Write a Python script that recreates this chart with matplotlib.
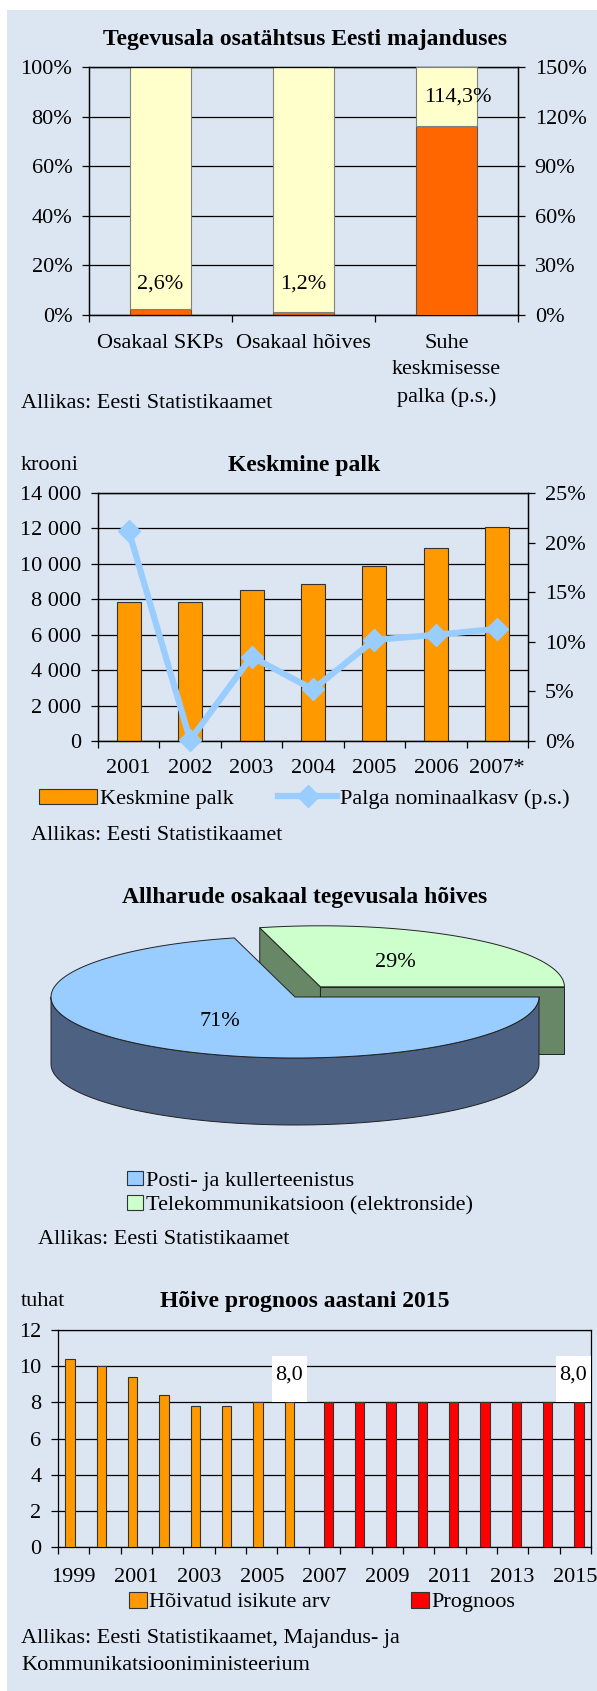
import matplotlib
matplotlib.use('Agg')
import matplotlib.pyplot as plt
import numpy as np
from matplotlib.patches import Rectangle, Polygon, Patch
from matplotlib.lines import Line2D

# ---------------- data ----------------
c1_categories = ['Osakaal SKPs', 'Osakaal hõives', 'Suhe\nkeskmisesse\npalka (p.s.)']
c1_shares = [2.6, 1.2]          # % (left axis)
c1_ratio = 114.3                # % (right axis)
c1_labels = ['2,6%', '1,2%', '114,3%']

c2_years = ['2001', '2002', '2003', '2004', '2005', '2006', '2007*']
c2_wage = [7820, 7820, 8500, 8890, 9870, 10920, 12080]
c2_growth = [21.2, 0.1, 8.5, 5.2, 10.2, 10.7, 11.3]

c3_labels = ['Posti- ja kullerteenistus', 'Telekommunikatsioon (elektronside)']
c3_shares = [71, 29]
c3_texts = ['71%', '29%']

c4_years = list(range(1999, 2016))
c4_actual = [10.4, 10.0, 9.4, 8.4, 7.8, 7.8, 8.0, 8.0]
c4_forecast = [8.0, 8.0, 8.0, 8.0, 8.0, 8.0, 8.0, 8.0, 8.0]

# ---------------- style ----------------
W, H = 597, 1691
plt.rcParams['font.family'] = ['Liberation Serif', 'DejaVu Serif']
plt.rcParams['font.size'] = 16
FS = 16
TFS = 17
BG = '#DCE6F2'
ORANGE = '#FF9900'
DORANGE = '#FF6600'
YELLOW = '#FFFFCC'
RED = '#FF0000'
EDGE = '#333333'

fig = plt.figure(figsize=(W / 100, H / 100), dpi=100)
fig.patch.set_facecolor('white')
fig.patches.append(Rectangle((7 / W, 0), 1 - 7 / W, 1 - 10 / H, transform=fig.transFigure,
                             facecolor=BG, edgecolor='none', zorder=-10))


def rect(l, t, r, b):
    return [l / W, 1 - b / H, (r - l) / W, (b - t) / H]


def ftext(x, y, s, **kw):
    kw.setdefault('fontsize', FS)
    kw.setdefault('va', 'center')
    fig.text(x / W, 1 - y / H, s, **kw)


def style_axes(ax):
    ax.set_facecolor('none')
    for sp in ax.spines.values():
        sp.set_color('black')
        sp.set_linewidth(0.9)
    ax.tick_params(axis='both', which='major', length=5, width=0.9, pad=7,
                   direction='out', labelsize=FS, colors='black')


def fig_legend(handles, labels, x, y, hl, hh, tp, **kw):
    fig.legend(handles=handles, labels=labels, loc='center left',
               bbox_to_anchor=(x / W, 1 - y / H), bbox_transform=fig.transFigure,
               frameon=False, fontsize=FS, handlelength=hl, handleheight=hh,
               handletextpad=tp, borderpad=0, borderaxespad=0, **kw)


# ================= Chart 1 =================
ax1 = fig.add_axes(rect(89, 67, 518, 315))
style_axes(ax1)
x1 = np.arange(len(c1_categories))
bw1 = 0.43
ax1.set_xlim(-0.5, 2.5)
ax1.set_ylim(0, 100)
ax1.bar(x1[:2], c1_shares, bw1, color=DORANGE, edgecolor='#555555', lw=0.8, zorder=3)
ax1.bar(x1[:2], [100 - v for v in c1_shares], bw1, bottom=c1_shares, color=YELLOW,
        edgecolor='#808080', lw=0.8, zorder=3)
ax1.set_yticks(range(0, 101, 20))
ax1.set_yticklabels([f'{v}%' for v in range(0, 101, 20)])
ax1.grid(axis='y', color='black', lw=0.9)
ax1.set_axisbelow(True)
ax1.set_xticks([-0.5, 0.5, 1.5, 2.5])
ax1.set_xticklabels([])
ax1.set_xticks(x1, minor=True)
ax1.set_xticklabels(c1_categories, minor=True)
ax1.tick_params(axis='x', which='minor', length=0, pad=14, labelsize=FS)
for lab in ax1.get_xticklabels(minor=True):
    lab.set_linespacing(1.5)
for i in range(2):
    ax1.text(x1[i], 12.5, c1_labels[i], ha='center', va='center', fontsize=FS, zorder=5)

ax1r = ax1.twinx()
style_axes(ax1r)
ax1r.set_ylim(0, 150)
ax1r.bar([x1[2]], [c1_ratio], bw1, color=DORANGE, edgecolor='#555555', lw=0.8, zorder=3)
ax1r.bar([x1[2]], [150 - c1_ratio], bw1, bottom=[c1_ratio], color=YELLOW,
         edgecolor='#808080', lw=0.8, zorder=3)
ax1r.set_yticks(range(0, 151, 30))
ax1r.set_yticklabels([f'{v}%' for v in range(0, 151, 30)])
ax1r.text(x1[2] + 0.08, 132, c1_labels[2], ha='center', va='center', fontsize=FS, zorder=5)

ftext(305, 40, 'Tegevusala osatähtsus Eesti majanduses', ha='center', fontsize=TFS, fontweight='bold')
ftext(21, 404, 'Allikas: Eesti Statistikaamet', ha='left')

# ================= Chart 2 =================
ax2 = fig.add_axes(rect(98, 493, 528, 741))
style_axes(ax2)
x2 = np.arange(len(c2_years))
ax2.set_xlim(-0.5, len(c2_years) - 0.5)
ax2.set_ylim(0, 14000)
ax2.bar(x2, c2_wage, 0.39, color=ORANGE, edgecolor=EDGE, lw=0.8, zorder=3)
yt2 = list(range(0, 14001, 2000))
ax2.set_yticks(yt2)
ax2.set_yticklabels([f'{v:,}'.replace(',', ' ') for v in yt2])
ax2.grid(axis='y', color='black', lw=0.9)
ax2.set_axisbelow(True)
ax2.set_xticks(np.arange(-0.5, len(c2_years), 1.0))
ax2.set_xticklabels([])
ax2.set_xticks(x2, minor=True)
ax2.set_xticklabels(c2_years, minor=True)
ax2.tick_params(axis='x', which='minor', length=0, pad=13, labelsize=FS)

ax2r = ax2.twinx()
style_axes(ax2r)
ax2r.set_ylim(0, 25)
ax2r.set_yticks(range(0, 26, 5))
ax2r.set_yticklabels([f'{v}%' for v in range(0, 26, 5)])
ax2r.plot(x2, c2_growth, color='#99CCFF', lw=4.5, marker='D', ms=11, zorder=5, clip_on=False)

ftext(21, 465, 'krooni', ha='left')
ftext(304, 465, 'Keskmine palk', ha='center', fontsize=TFS, fontweight='bold')
fig_legend([Patch(facecolor=ORANGE, edgecolor=EDGE, lw=0.8)], ['Keskmine palk'],
           39, 799, 58 / 22.2, 14 / 22.2, 0.15)
fig_legend([Line2D([], [], color='#99CCFF', lw=4.5, marker='D', ms=11)],
           ['Palga nominaalkasv (p.s.)'], 278, 799, 59 / 22.2, 0.7, 0.15)
ftext(31, 836, 'Allikas: Eesti Statistikaamet', ha='left')

# ================= Chart 3 (3-D pie) =================
ftext(305, 897, 'Allharude osakaal tegevusala hõives', ha='center', fontsize=TFS, fontweight='bold')
ax3 = fig.add_axes(rect(0, 900, 597, 1160))
ax3.set_xlim(0, 597)
ax3.set_ylim(1160, 900)
ax3.axis('off')

cx, cy = 295.0, 997.0
rx, ry, depth = 244.0, 61.0, 67.0
explode = 0.17
fr = np.array(c3_shares, dtype=float) / sum(c3_shares)
g0, g1 = 0.0, 360.0 * fr[1]       # green (telecom) starts at 0 deg
b0, b1 = g1, 360.0                  # blue (post) fills the rest
COL_TOP = ['#99CCFF', '#CCFFCC']
COL_SIDE = ['#4D6282', '#678767']
lkw = dict(edgecolor='#222222', lw=0.7, joinstyle='round')


def pt(cx_, cy_, a, dy=0.0):
    t = np.radians(a)
    return (cx_ + rx * np.cos(t), cy_ - ry * np.sin(t) + dy)


def arc(cx_, cy_, a0, a1, dy=0.0, n=120):
    t = np.radians(np.linspace(a0, a1, n))
    return np.column_stack([cx_ + rx * np.cos(t), cy_ - ry * np.sin(t) + dy])


# green slice, exploded
gm = np.radians((g0 + g1) / 2)
gcx = cx + explode * rx * np.cos(gm)
gcy = cy - explode * ry * np.sin(gm) - 2
for a in (g1, g0):
    p = pt(gcx, gcy, a)
    ax3.add_patch(Polygon([(gcx, gcy), p, (p[0], p[1] + depth), (gcx, gcy + depth)],
                          closed=True, facecolor=COL_SIDE[1], **lkw))
ax3.add_patch(Polygon(np.vstack([[gcx, gcy], arc(gcx, gcy, g0, g1)]), closed=True,
                      facecolor=COL_TOP[1], **lkw))

# blue slice: front wall then top
wall_top = arc(cx, cy, 180, 360)
wall_bot = arc(cx, cy, 360, 180, dy=depth)
ax3.add_patch(Polygon(np.vstack([wall_top, wall_bot]), closed=True, facecolor=COL_SIDE[0], **lkw))
ax3.add_patch(Polygon(np.vstack([[cx, cy], arc(cx, cy, b0, b1)]), closed=True,
                      facecolor=COL_TOP[0], **lkw))

bm = np.radians((b0 + b1) / 2)
ax3.text(cx + 0.5 * rx * np.cos(bm), cy - 0.5 * ry * np.sin(bm), c3_texts[0],
         ha='center', va='center', fontsize=FS)
ax3.text(gcx + 0.5 * rx * np.cos(gm), gcy - 0.5 * ry * np.sin(gm), c3_texts[1],
         ha='center', va='center', fontsize=FS)

fig_legend([Patch(facecolor=COL_TOP[0], edgecolor=EDGE, lw=0.8),
            Patch(facecolor=COL_TOP[1], edgecolor=EDGE, lw=0.8)], c3_labels,
           127, 1193, 16 / 22.2, 14 / 22.2, 0.12, labelspacing=0.18)
ftext(38, 1240, 'Allikas: Eesti Statistikaamet', ha='left')

# ================= Chart 4 =================
ax4 = fig.add_axes(rect(58, 1330, 591, 1547))
style_axes(ax4)
n4 = len(c4_years)
x4 = np.arange(n4)
na = len(c4_actual)
ax4.set_xlim(-0.5, n4 - 0.5)
ax4.set_ylim(0, 12)
xa = x4[:na] - 0.12
xf = x4[na:] + 0.12
ax4.bar(xa, c4_actual, 0.3, color=ORANGE, edgecolor=EDGE, lw=0.8, zorder=3)
ax4.bar(xf, c4_forecast, 0.3, color=RED, edgecolor=EDGE, lw=0.8, zorder=3)
ax4.set_yticks(range(0, 13, 2))
ax4.grid(axis='y', color='black', lw=0.9)
ax4.set_axisbelow(True)
ax4.set_xticks(np.arange(-0.5, n4, 1.0))
ax4.set_xticklabels([])
ax4.set_xticks(x4[::2], minor=True)
ax4.set_xticklabels([str(y) for y in c4_years[::2]], minor=True)
ax4.tick_params(axis='x', which='minor', length=0, pad=15, labelsize=FS)

bw_box = 1.13
for xb, v in ((xa[-1], c4_actual[-1]), (xf[-1], c4_forecast[-1])):
    xc = min(xb, n4 - 0.5 - bw_box / 2)
    ax4.add_patch(Rectangle((xc - bw_box / 2, v + 0.04), bw_box, 2.5, facecolor='white',
                            edgecolor='none', zorder=4))
    ax4.text(xc, v + 1.5, f'{v:.1f}'.replace('.', ','), ha='center', va='center',
             fontsize=FS, zorder=5)

ftext(21, 1302, 'tuhat', ha='left')
ftext(305, 1302, 'Hõive prognoos aastani 2015', ha='center', fontsize=TFS, fontweight='bold')
fig_legend([Patch(facecolor=ORANGE, edgecolor=EDGE, lw=0.8)], ['Hõivatud isikute arv'],
           129, 1602, 18 / 22.2, 16 / 22.2, 0.1)
fig_legend([Patch(facecolor=RED, edgecolor=EDGE, lw=0.8)], ['Prognoos'],
           411, 1602, 18 / 22.2, 16 / 22.2, 0.1)
ftext(21, 1638, 'Allikas: Eesti Statistikaamet, Majandus- ja', ha='left')
ftext(21, 1665, 'Kommunikatsiooniministeerium', ha='left')

fig.savefig('out.png', dpi=100, facecolor=fig.get_facecolor())
